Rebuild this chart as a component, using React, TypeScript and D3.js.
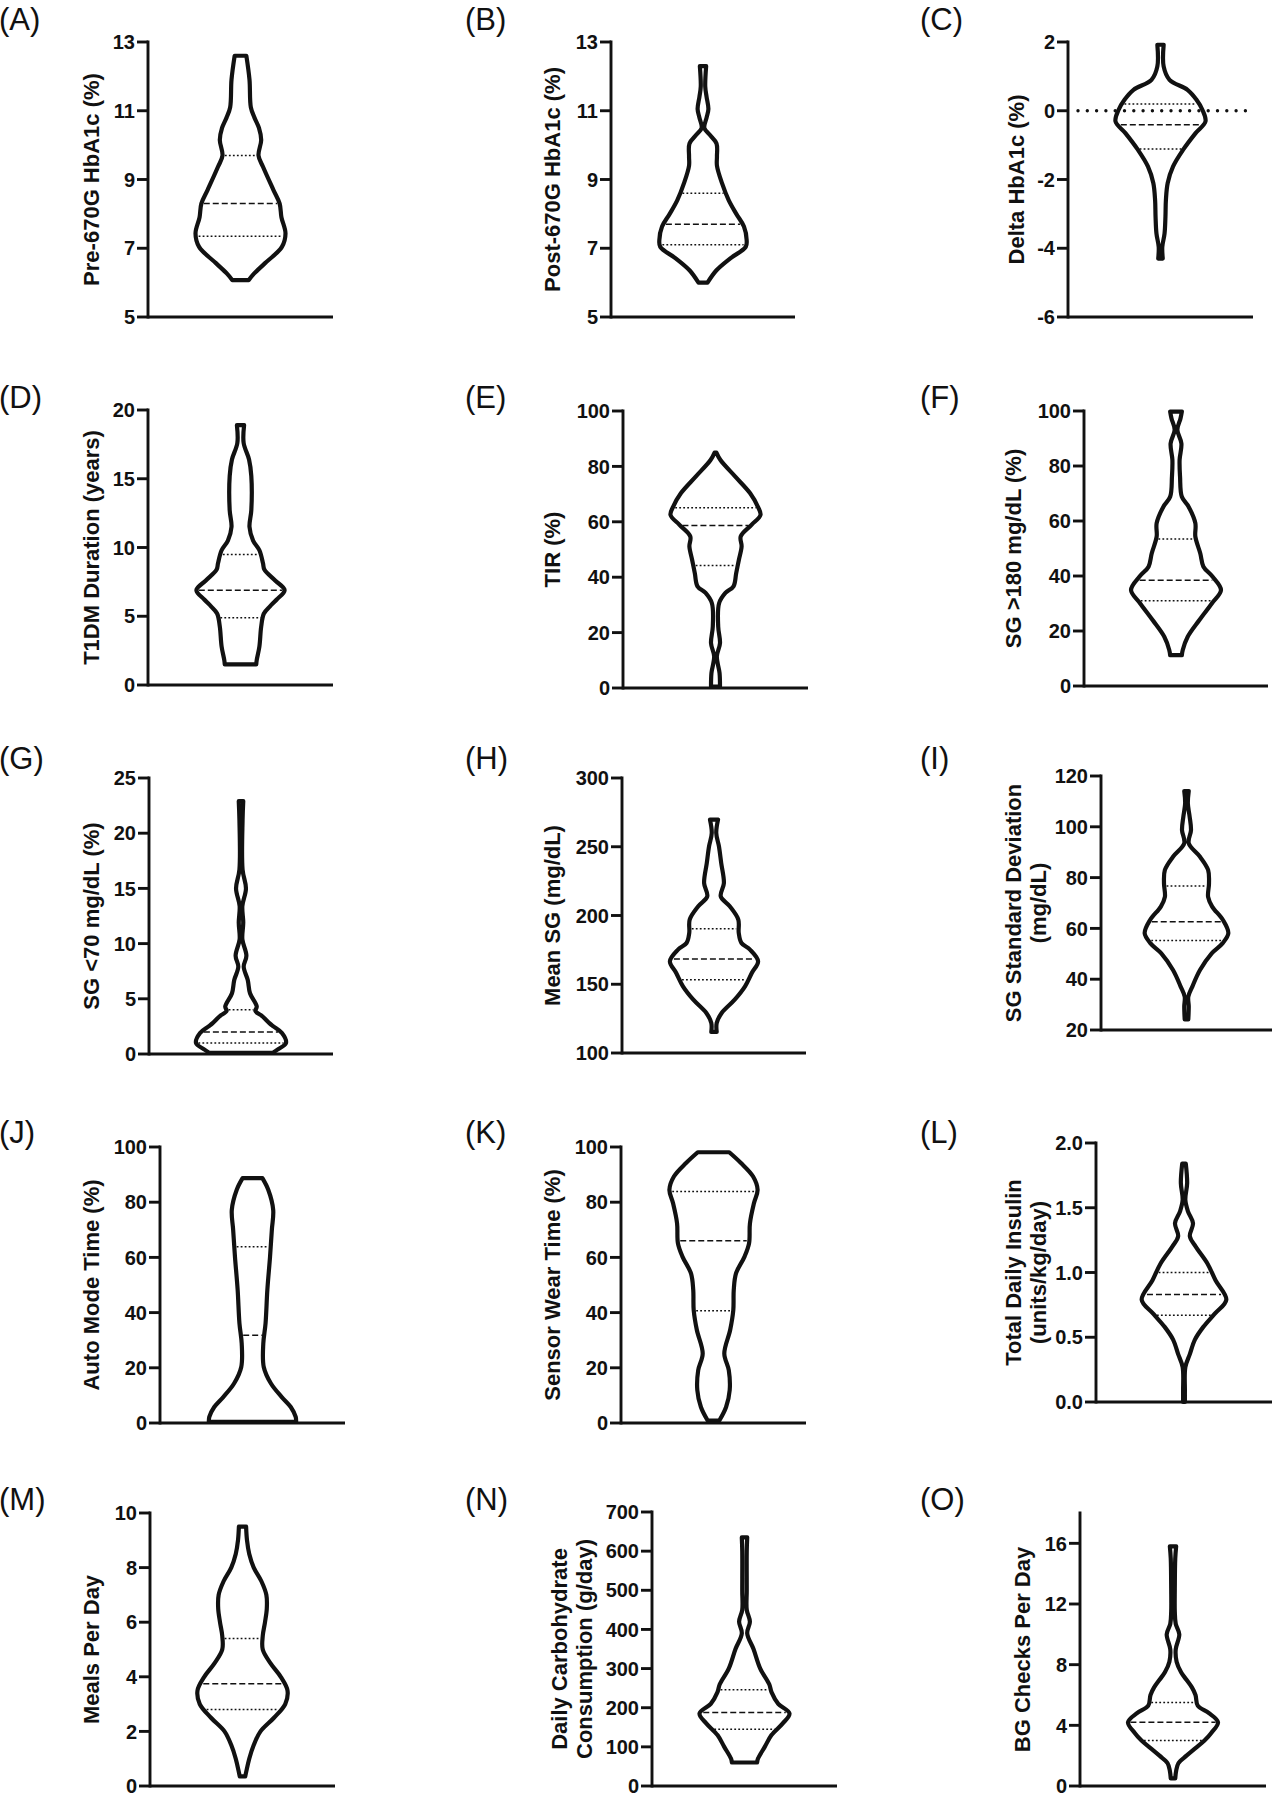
import * as d3 from 'd3'

// Each profile: [value, relative density] (1 = widest violin)
const preHbA1c = [[6.07, 0.18], [6.26, 0.3], [6.56, 0.54], [7.04, 0.92], [7.43, 1.0], [7.9, 0.91], [8.3, 0.87], [8.7, 0.73], [9.37, 0.5], [9.7, 0.4], [10.15, 0.46], [10.5, 0.41], [10.8, 0.31], [11.1, 0.23], [11.9, 0.2], [12.6, 0.13]]
const postHbA1c = [[6.0, 0.1], [6.36, 0.3], [6.7, 0.6], [7.04, 0.95], [7.24, 0.97], [7.63, 0.91], [8.0, 0.74], [8.4, 0.57], [8.9, 0.42], [9.4, 0.31], [9.67, 0.31], [10.05, 0.3], [10.3, 0.15], [10.5, 0.03], [10.8, 0.08], [11.05, 0.12], [11.4, 0.08], [11.7, 0.05], [12.3, 0.07]]
const deltaHbA1c = [[-4.3, 0.05], [-3.96, 0.04], [-3.57, 0.09], [-3.08, 0.11], [-2.6, 0.12], [-2.1, 0.16], [-1.62, 0.28], [-1.14, 0.5], [-0.65, 0.78], [-0.31, 1.0], [0.03, 0.93], [0.32, 0.8], [0.61, 0.6], [0.9, 0.2], [1.29, 0.07], [1.92, 0.07]]
const t1dmDuration = [[1.5, 0.35], [1.8, 0.36], [2.8, 0.42], [4.25, 0.46], [5.2, 0.52], [5.7, 0.65], [6.2, 0.8], [6.9, 0.98], [7.6, 0.77], [8.4, 0.53], [8.85, 0.5], [9.8, 0.42], [10.5, 0.28], [11.5, 0.2], [12.7, 0.24], [15.2, 0.24], [16.4, 0.19], [17.6, 0.07], [18.9, 0.08]]
const tir = [[0.5, 0.1], [5.4, 0.09], [11.4, 0.03], [16.2, 0.1], [22.2, 0.06], [30.6, 0.08], [34.3, 0.22], [36.7, 0.4], [41.5, 0.46], [46.3, 0.52], [51.1, 0.58], [54.7, 0.56], [58.9, 0.8], [62.5, 1.0], [65.5, 0.94], [70.3, 0.77], [76.3, 0.44], [82.3, 0.11], [85, 0.02]]
const sgAbove180 = [[11.2, 0.13], [13.1, 0.15], [17.9, 0.26], [24, 0.52], [30.1, 0.8], [34.9, 1.0], [39.8, 0.81], [43.4, 0.61], [48.2, 0.54], [54.3, 0.43], [59.2, 0.43], [65.2, 0.28], [68.8, 0.13], [76.1, 0.09], [82.2, 0.08], [88.2, 0.12], [93.2, 0.03], [97.3, 0.1], [99.8, 0.13]]
const sgBelow70 = [[0.1, 0.7], [0.4, 0.81], [1.0, 1.0], [1.9, 0.91], [2.5, 0.72], [2.8, 0.63], [3.4, 0.48], [3.9, 0.32], [4.3, 0.35], [5.5, 0.2], [6.7, 0.15], [7.9, 0.06], [8.9, 0.12], [10.4, 0.03], [11.9, 0.05], [13.4, 0.03], [15, 0.11], [16.7, 0.035], [21.2, 0.035], [22.9, 0.05]]
const meanSg = [[115.3, 0.06], [121.8, 0.06], [129.1, 0.17], [138.8, 0.46], [148.5, 0.69], [158.2, 0.84], [166.7, 0.98], [175.2, 0.8], [180, 0.61], [187.3, 0.55], [197, 0.54], [206.7, 0.35], [213.9, 0.15], [223.6, 0.22], [238.2, 0.16], [250.3, 0.11], [260, 0.05], [269.7, 0.09]]
const sgStdDev = [[24.2, 0.04], [29.2, 0.05], [33.1, 0.04], [37.1, 0.13], [43.6, 0.3], [50.2, 0.56], [54.1, 0.8], [58.1, 0.93], [63.3, 0.81], [68.6, 0.57], [72.4, 0.48], [77.7, 0.5], [83, 0.48], [88.2, 0.3], [93.5, 0.05], [98.7, 0.1], [104, 0.07], [109.2, 0.03], [114.1, 0.05]]
const autoMode = [[0.4, 0.97], [2.2, 0.96], [5.8, 0.85], [9.4, 0.65], [14.3, 0.41], [20.3, 0.25], [28.8, 0.24], [36.1, 0.29], [48.2, 0.33], [60.3, 0.39], [70, 0.43], [77.2, 0.46], [84.5, 0.35], [88.7, 0.22]]
const sensorWear = [[0.9, 0.13], [5.8, 0.28], [11.9, 0.36], [19.1, 0.34], [25.2, 0.24], [33.7, 0.37], [40.9, 0.44], [48.2, 0.45], [54.2, 0.5], [60.3, 0.69], [65.1, 0.79], [72.4, 0.81], [79.7, 0.9], [84.5, 0.98], [89.3, 0.88], [94.2, 0.61], [98.1, 0.35]]
const dailyInsulin = [[0.0, 0.02], [0.09, 0.02], [0.27, 0.03], [0.37, 0.13], [0.48, 0.24], [0.58, 0.43], [0.68, 0.68], [0.79, 0.94], [0.94, 0.7], [1.07, 0.52], [1.2, 0.26], [1.28, 0.13], [1.38, 0.2], [1.47, 0.09], [1.56, 0.03], [1.69, 0.07], [1.84, 0.04]]
const mealsPerDay = [[0.35, 0.06], [0.5, 0.08], [1.0, 0.15], [1.5, 0.25], [2.0, 0.4], [2.5, 0.7], [3.0, 0.95], [3.5, 1.0], [4.0, 0.85], [4.5, 0.62], [5.0, 0.45], [5.5, 0.45], [6.0, 0.5], [6.5, 0.54], [7.0, 0.53], [7.5, 0.42], [8.0, 0.25], [8.5, 0.15], [9.0, 0.1], [9.5, 0.08]]
const carbIntake = [[60, 0.28], [70, 0.3], [100, 0.45], [130, 0.6], [160, 0.85], [185, 1.0], [210, 0.75], [240, 0.6], [260, 0.55], [300, 0.35], [350, 0.2], [390, 0.06], [420, 0.12], [450, 0.05], [500, 0.05], [600, 0.05], [635, 0.06]]
const bgChecks = [[0.5, 0.05], [1.0, 0.07], [1.5, 0.12], [2.0, 0.3], [2.5, 0.5], [3.0, 0.7], [3.5, 0.85], [4.2, 1.0], [4.8, 0.8], [5.3, 0.55], [6.0, 0.5], [6.5, 0.42], [7.0, 0.3], [7.5, 0.18], [8.2, 0.08], [9.0, 0.06], [10.0, 0.14], [10.7, 0.06], [11.5, 0.04], [13, 0.04], [15, 0.05], [15.8, 0.07]]

// [Q1, median, Q3]
const preHbA1cQ = [7.35, 8.3, 9.7]
const postHbA1cQ = [7.1, 7.7, 8.6]
const deltaHbA1cQ = [-1.11, -0.41, 0.2]
const t1dmDurationQ = [4.9, 6.9, 9.5]
const tirQ = [44.2, 58.7, 65.1]
const sgAbove180Q = [31, 38.5, 53.5]
const sgBelow70Q = [1.0, 2.0, 4.0]
const meanSgQ = [153.3, 168.4, 190.4]
const sgStdDevQ = [55.2, 62.6, 76.7]
const autoModeQ = [0.5, 31.8, 63.9]
const sensorWearQ = [40.7, 66, 83.9]
const dailyInsulinQ = [0.67, 0.83, 1.0]
const mealsPerDayQ = [2.8, 3.75, 5.4]
const carbIntakeQ = [145, 188, 246]
const bgChecksQ = [3.0, 4.2, 5.5]

// axis ticks
const hba1cTicks = [5, 7, 9, 11, 13]
const deltaTicks = [-6, -4, -2, 0, 2]
const durationTicks = [0, 5, 10, 15, 20]
const pctTicks = [0, 20, 40, 60, 80, 100]
const hypoTicks = [0, 5, 10, 15, 20, 25]
const meanSgTicks = [100, 150, 200, 250, 300]
const sdTicks = [20, 40, 60, 80, 100, 120]
const insulinTicks = [0, 0.5, 1.0, 1.5, 2.0]
const mealTicks = [0, 2, 4, 6, 8, 10]
const carbTicks = [0, 100, 200, 300, 400, 500, 600, 700]
const bgTicks = [0, 4, 8, 12, 16]

const panels = [
  { letter: '(A)', title: ['Pre-670G HbA1c (%)'], domain: [5, 13], ticks: hba1cTicks, profile: preHbA1c, q: preHbA1cQ },
  { letter: '(B)', title: ['Post-670G HbA1c (%)'], domain: [5, 13], ticks: hba1cTicks, profile: postHbA1c, q: postHbA1cQ },
  { letter: '(C)', title: ['Delta HbA1c (%)'], domain: [-6, 2], ticks: deltaTicks, profile: deltaHbA1c, q: deltaHbA1cQ, zero: true },
  { letter: '(D)', title: ['T1DM Duration (years)'], domain: [0, 20], ticks: durationTicks, profile: t1dmDuration, q: t1dmDurationQ },
  { letter: '(E)', title: ['TIR (%)'], domain: [0, 100], ticks: pctTicks, profile: tir, q: tirQ },
  { letter: '(F)', title: ['SG >180 mg/dL (%)'], domain: [0, 100], ticks: pctTicks, profile: sgAbove180, q: sgAbove180Q },
  { letter: '(G)', title: ['SG <70 mg/dL (%)'], domain: [0, 25], ticks: hypoTicks, profile: sgBelow70, q: sgBelow70Q },
  { letter: '(H)', title: ['Mean SG (mg/dL)'], domain: [100, 300], ticks: meanSgTicks, profile: meanSg, q: meanSgQ },
  { letter: '(I)', title: ['SG Standard Deviation', '(mg/dL)'], domain: [20, 120], ticks: sdTicks, profile: sgStdDev, q: sgStdDevQ },
  { letter: '(J)', title: ['Auto Mode Time (%)'], domain: [0, 100], ticks: pctTicks, profile: autoMode, q: autoModeQ },
  { letter: '(K)', title: ['Sensor Wear Time (%)'], domain: [0, 100], ticks: pctTicks, profile: sensorWear, q: sensorWearQ },
  { letter: '(L)', title: ['Total Daily Insulin', '(units/kg/day)'], domain: [0, 2], ticks: insulinTicks, profile: dailyInsulin, q: dailyInsulinQ, decimals: 1 },
  { letter: '(M)', title: ['Meals Per Day'], domain: [0, 10], ticks: mealTicks, profile: mealsPerDay, q: mealsPerDayQ },
  { letter: '(N)', title: ['Daily Carbohydrate', 'Consumption (g/day)'], domain: [0, 700], ticks: carbTicks, profile: carbIntake, q: carbIntakeQ },
  { letter: '(O)', title: ['BG Checks Per Day'], domain: [0, 18], ticks: bgTicks, profile: bgChecks, q: bgChecksQ },
]

// layout: axis x, top/bottom of y axis, x-axis length, title baseline x, letter x / baseline
const frames = [
  { ax: 148, top: 42, bottom: 317, len: 185, tx: 99, lx: -1, ly: 30 },
  { ax: 611, top: 42, bottom: 317, len: 184, tx: 560, lx: 465, ly: 30 },
  { ax: 1068, top: 42, bottom: 317, len: 185, tx: 1024, lx: 920, ly: 30 },
  { ax: 148, top: 410, bottom: 685, len: 185, tx: 99, lx: -1, ly: 408 },
  { ax: 623, top: 411, bottom: 688, len: 185, tx: 560, lx: 465, ly: 408 },
  { ax: 1084, top: 411, bottom: 686, len: 184, tx: 1021, lx: 920, ly: 408 },
  { ax: 149, top: 778, bottom: 1054, len: 184, tx: 99, lx: -1, ly: 769 },
  { ax: 622, top: 778, bottom: 1053, len: 184, tx: 560, lx: 465, ly: 769 },
  { ax: 1101, top: 776, bottom: 1030, len: 171, tx: 1046, lx: 920, ly: 769 },
  { ax: 160, top: 1147, bottom: 1423, len: 185, tx: 99, lx: -1, ly: 1143 },
  { ax: 621, top: 1147, bottom: 1423, len: 185, tx: 560, lx: 465, ly: 1143 },
  { ax: 1096, top: 1143, bottom: 1402, len: 176, tx: 1046, lx: 920, ly: 1143 },
  { ax: 150, top: 1513, bottom: 1786, len: 185, tx: 99, lx: -1, ly: 1510 },
  { ax: 652, top: 1512, bottom: 1786, len: 185, tx: 592, lx: 465, ly: 1510 },
  { ax: 1080, top: 1513, bottom: 1786, len: 186, tx: 1030, lx: 920, ly: 1510 },
]

const FONT = '"Liberation Sans", Arial, Helvetica, sans-serif'
const MAX_HALF = 45

function ViolinPanel({ panel, frame }) {
  const y = d3.scaleLinear().domain(panel.domain).range([frame.bottom, frame.top])
  const w = d3.scaleLinear().domain([0, 1]).range([0, MAX_HALF])
  const cx = frame.ax + frame.len / 2
  const prof = [...panel.profile].sort((a, b) => a[0] - b[0])

  const area = d3.area()
    .y(d => y(d[0]))
    .x0(d => cx - w(d[1]))
    .x1(d => cx + w(d[1]))
    .curve(d3.curveCatmullRom.alpha(0.5))

  const widthAt = v => {
    const i = d3.bisector(d => d[0]).left(prof, v)
    if (i <= 0) return prof[0][1]
    if (i >= prof.length) return prof[prof.length - 1][1]
    const [v0, d0] = prof[i - 1]
    const [v1, d1] = prof[i]
    return d0 + (d1 - d0) * (v - v0) / (v1 - v0)
  }

  const fmt = v => panel.decimals ? v.toFixed(panel.decimals) : String(v)
  const midY = (frame.top + frame.bottom) / 2
  const nLines = panel.title.length

  return (
    <g>
      <text x={frame.lx} y={frame.ly} fontFamily={FONT} fontSize={31} fill="#111">{panel.letter}</text>

      <g transform={`translate(${frame.tx},${midY}) rotate(-90)`}>
        {panel.title.map((t, i) => (
          <text key={i} x={0} y={(i - (nLines - 1)) * 25} textAnchor="middle"
            fontFamily={FONT} fontWeight="bold" fontSize={22} fill="#111">{t}</text>
        ))}
      </g>

      {panel.zero && (
        <line x1={frame.ax + 10} x2={frame.ax + frame.len} y1={y(0)} y2={y(0)}
          stroke="#111" strokeWidth={3.4} strokeLinecap="round" strokeDasharray="0 9.3" />
      )}

      <path d={area(prof)} fill="none" stroke="#111" strokeWidth={4.2} strokeLinejoin="round" />

      {panel.q.map((v, i) => {
        const hw = Math.max(w(widthAt(v)) - 2.4, 0)
        return (
          <line key={i} x1={cx - hw} x2={cx + hw} y1={y(v)} y2={y(v)}
            stroke="#111" strokeWidth={1.5}
            strokeDasharray={i === 1 ? '6 3' : '1.8 2.2'} />
        )
      })}

      <line x1={frame.ax} x2={frame.ax} y1={frame.top} y2={frame.bottom} stroke="#111" strokeWidth={2.9} strokeLinecap="square" />
      <line x1={frame.ax} x2={frame.ax + frame.len} y1={frame.bottom} y2={frame.bottom} stroke="#111" strokeWidth={2.9} />
      {panel.ticks.map(t => (
        <g key={t}>
          <line x1={frame.ax - 11} x2={frame.ax} y1={y(t)} y2={y(t)} stroke="#111" strokeWidth={2.9} />
          <text x={frame.ax - 13} y={y(t)} dy="0.36em" textAnchor="end"
            fontFamily={FONT} fontWeight="bold" fontSize={20} fill="#111">{fmt(t)}</text>
        </g>
      ))}
    </g>
  )
}

export default function App() {
  return (
    <svg width={1272} height={1800} viewBox="0 0 1272 1800"
      style={{ position: 'absolute', left: 0, top: 0, background: '#fff' }}>
      <rect width={1272} height={1800} fill="#fff" />
      {panels.map((p, i) => <ViolinPanel key={p.letter} panel={p} frame={frames[i]} />)}
    </svg>
  )
}
